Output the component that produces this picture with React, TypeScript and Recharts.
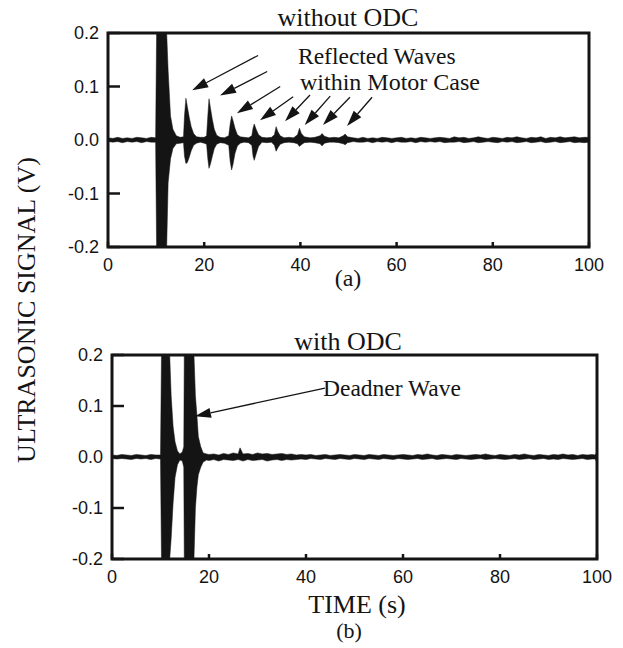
import { Area, ComposedChart, ReferenceArea, ReferenceLine, XAxis, YAxis } from 'recharts'

const INK = '#141414'
const SERIF = '"Liberation Serif", "Times New Roman", serif'
const SANS = '"Liberation Sans", Arial, Helvetica, sans-serif'

const xTicks = [0, 20, 40, 60, 80, 100]
const yTicks = [-0.2, -0.1, 0, 0.1, 0.2]

// (a) without ODC - envelope of the received signal (V) against time
const timeA = [
  0, 1, 2, 3, 4, 5, 6, 7, 8, 9, 9.9,
  10.1, 12.2, 12.5, 13, 13.5, 14.2, 15, 15.7,
  15.9, 16.2, 16.5, 16.9, 17.3, 17.8, 18.4, 19.2, 20,
  20.5, 20.75, 21, 21.3, 21.7, 22.1, 22.6, 23.3, 24.2,
  25.1, 25.4, 25.7, 26, 26.4, 26.9, 27.5, 28.3, 29.2,
  29.9, 30.15, 30.4, 30.8, 31.3, 32, 33, 34,
  34.6, 34.95, 35.3, 35.8, 36.6, 37.6, 38.6,
  39.4, 39.8, 40.2, 40.8, 42, 43,
  44.1, 44.5, 45, 46, 47, 48,
  48.9, 49.3, 49.8,
  51, 52, 53, 54, 55, 56, 57, 58, 59, 60, 61, 62, 63, 64, 65, 66, 67, 68, 69, 70, 71, 72, 73, 74, 75,
  76, 77, 78, 79, 80, 81, 82, 83, 84, 85, 86, 87, 88, 89, 90, 91, 92, 93, 94, 95, 96, 97, 98, 99, 100,
]
const upperA = [
  0.004, 0.003, 0.005, 0.003, 0.004, 0.003, 0.005, 0.004, 0.003, 0.005, 0.004,
  0.2, 0.2, 0.13, 0.045, 0.02, 0.008, 0.005, 0.006,
  0.045, 0.078, 0.062, 0.042, 0.025, 0.012, 0.006, 0.005, 0.005,
  0.008, 0.045, 0.077, 0.06, 0.038, 0.02, 0.009, 0.005, 0.004,
  0.008, 0.03, 0.045, 0.036, 0.022, 0.01, 0.006, 0.005, 0.004,
  0.008, 0.022, 0.03, 0.02, 0.01, 0.005, 0.004, 0.005,
  0.01, 0.025, 0.016, 0.008, 0.004, 0.005, 0.004,
  0.01, 0.022, 0.012, 0.006, 0.004, 0.005,
  0.008, 0.012, 0.007, 0.004, 0.005, 0.004,
  0.008, 0.011, 0.006,
  0.004, 0.003, 0.005, 0.003, 0.004, 0.003, 0.005, 0.004, 0.003, 0.004, 0.005, 0.003, 0.004, 0.003, 0.005, 0.004, 0.003, 0.004, 0.005, 0.004, 0.003, 0.006, 0.004, 0.005, 0.003,
  0.004, 0.006, 0.004, 0.003, 0.005, 0.004, 0.003, 0.005, 0.004, 0.006, 0.004, 0.003, 0.005, 0.004, 0.006, 0.003, 0.005, 0.004, 0.006, 0.004, 0.005, 0.006, 0.004, 0.005, 0.005,
]
const lowerA = [
  -0.003, -0.004, -0.003, -0.005, -0.003, -0.004, -0.003, -0.005, -0.003, -0.004, -0.004,
  -0.2, -0.2, -0.08, -0.035, -0.016, -0.007, -0.006, -0.005,
  -0.03, -0.044, -0.042, -0.032, -0.02, -0.01, -0.006, -0.004, -0.006,
  -0.008, -0.035, -0.053, -0.045, -0.03, -0.016, -0.008, -0.005, -0.006,
  -0.01, -0.04, -0.056, -0.045, -0.025, -0.011, -0.006, -0.004, -0.005,
  -0.01, -0.03, -0.038, -0.026, -0.012, -0.004, -0.005, -0.004,
  -0.01, -0.021, -0.015, -0.008, -0.005, -0.004, -0.005,
  -0.007, -0.012, -0.009, -0.005, -0.004, -0.005,
  -0.007, -0.011, -0.006, -0.004, -0.004, -0.005,
  -0.007, -0.009, -0.005,
  -0.003, -0.004, -0.004, -0.003, -0.005, -0.003, -0.004, -0.003, -0.005, -0.003, -0.004, -0.004, -0.003, -0.005, -0.003, -0.004, -0.003, -0.004, -0.003, -0.005, -0.004, -0.004, -0.003, -0.005, -0.004,
  -0.003, -0.005, -0.004, -0.003, -0.004, -0.005, -0.003, -0.004, -0.003, -0.005, -0.004, -0.003, -0.005, -0.004, -0.003, -0.005, -0.004, -0.003, -0.005, -0.004, -0.003, -0.005, -0.004, -0.005, -0.004,
]

// (b) with ODC
const timeB = [
  0, 1, 2, 3, 4, 5, 6, 7, 8, 9, 10,
  10.2, 11.9, 12.2, 12.6, 13, 13.5, 14, 14.5, 14.8,
  14.9, 16.9, 17.2, 17.5, 17.8, 18.3, 18.8, 19.5,
  20, 21, 22, 23, 24, 25, 26, 26.4, 27, 28, 29, 30, 31, 32, 33, 34, 35, 36, 37, 38, 39, 40,
  41, 42, 43, 44, 45, 46, 47, 48, 49, 50, 51, 52, 53, 54, 55, 56, 57, 58, 59, 60, 61, 62, 63, 64, 65, 66, 67, 68, 69, 70,
  71, 72, 73, 74, 75, 76, 77, 78, 79, 80, 81, 82, 83, 84, 85, 86, 87, 88, 89, 90, 91, 92, 93, 94, 95, 96, 97, 98, 99, 99.6, 100,
]
const upperB = [
  0.004, 0.003, 0.005, 0.004, 0.003, 0.005, 0.004, 0.003, 0.005, 0.004, 0.004,
  0.2, 0.2, 0.12, 0.06, 0.03, 0.012, 0.006, 0.01, 0.02,
  0.2, 0.2, 0.12, 0.083, 0.04, 0.02, 0.008, 0.006,
  0.005, 0.006, 0.004, 0.007, 0.005, 0.008, 0.006, 0.018, 0.006, 0.007, 0.005, 0.008, 0.006, 0.007, 0.005, 0.006, 0.007, 0.005, 0.006, 0.004, 0.005, 0.004,
  0.005, 0.003, 0.004, 0.005, 0.003, 0.004, 0.005, 0.004, 0.003, 0.005, 0.004, 0.003, 0.005, 0.004, 0.003, 0.005, 0.004, 0.003, 0.004, 0.005, 0.004, 0.003, 0.005, 0.004, 0.006, 0.004, 0.003, 0.005, 0.004, 0.003,
  0.005, 0.004, 0.003, 0.004, 0.005, 0.004, 0.006, 0.004, 0.003, 0.005, 0.004, 0.003, 0.005, 0.004, 0.006, 0.004, 0.003, 0.005, 0.004, 0.003, 0.005, 0.004, 0.006, 0.004, 0.005, 0.003, 0.005, 0.004, 0.005, 0.004, 0.01,
]
const lowerB = [
  -0.003, -0.004, -0.003, -0.004, -0.005, -0.003, -0.004, -0.003, -0.005, -0.003, -0.004,
  -0.2, -0.2, -0.16, -0.09, -0.04, -0.015, -0.006, -0.008, -0.02,
  -0.2, -0.2, -0.1, -0.06, -0.035, -0.02, -0.01, -0.006,
  -0.007, -0.005, -0.008, -0.005, -0.006, -0.007, -0.005, -0.006, -0.008, -0.005, -0.007, -0.006, -0.005, -0.008, -0.006, -0.005, -0.007, -0.005, -0.006, -0.005, -0.004, -0.005,
  -0.003, -0.004, -0.005, -0.003, -0.004, -0.005, -0.003, -0.004, -0.005, -0.003, -0.004, -0.005, -0.003, -0.004, -0.005, -0.003, -0.004, -0.005, -0.003, -0.004, -0.005, -0.004, -0.003, -0.005, -0.004, -0.003, -0.005, -0.004, -0.003, -0.004,
  -0.005, -0.003, -0.004, -0.005, -0.004, -0.003, -0.005, -0.004, -0.003, -0.004, -0.005, -0.004, -0.003, -0.005, -0.004, -0.003, -0.005, -0.004, -0.003, -0.005, -0.004, -0.005, -0.003, -0.004, -0.005, -0.004, -0.003, -0.005, -0.004, -0.004, -0.01,
]

// annotation arrows: [tail time, tail V, tip time, tip V]
const arrowsA = [
  [31.2, 0.158, 17.5, 0.093],
  [33.1, 0.128, 23.3, 0.083],
  [35.8, 0.1, 26.8, 0.05],
  [38.5, 0.081, 31.6, 0.037],
  [42.0, 0.084, 36.8, 0.035],
  [46.2, 0.082, 40.9, 0.028],
  [50.3, 0.08, 44.7, 0.028],
  [54.9, 0.08, 49.7, 0.026],
]
const arrowsB = [[43.9, 0.135, 17.1, 0.08]]

const toRows = (t: number[], hi: number[], lo: number[]) =>
  t.map((time, i) => ({ time, range: [lo[i] ?? 0, hi[i] ?? 0] }))

const dataA = toRows(timeA, upperA, lowerA)
const dataB = toRows(timeB, upperB, lowerB)

function Arrow(props: any) {
  const { x1, y1, x2, y2 } = props
  const dx = x2 - x1
  const dy = y2 - y1
  const len = Math.hypot(dx, dy) || 1
  const ux = dx / len
  const uy = dy / len
  const hl = 16
  const hw = 5
  const bx = x2 - ux * hl
  const by = y2 - uy * hl
  return (
    <g>
      <line x1={x1} y1={y1} x2={bx} y2={by} stroke={INK} strokeWidth={1.3} />
      <polygon
        points={`${x2},${y2} ${bx - uy * hw},${by + ux * hw} ${bx + uy * hw},${by - ux * hw}`}
        fill={INK}
      />
    </g>
  )
}

function XTick(props: any) {
  const { x, y, payload } = props
  return (
    <g>
      <line x1={x} y1={y} x2={x} y2={y - 5} stroke={INK} strokeWidth={2.5} />
      <text x={x} y={y + 18} textAnchor="middle" dominantBaseline="central" fontFamily={SANS} fontSize={18} fill={INK}>
        {payload.value}
      </text>
    </g>
  )
}

function YTick(props: any) {
  const { x, y, payload } = props
  return (
    <g>
      <line x1={x} y1={y} x2={x + 12} y2={y} stroke={INK} strokeWidth={2.5} />
      <text x={x - 9} y={y} textAnchor="end" dominantBaseline="central" fontFamily={SANS} fontSize={18} fill={INK}>
        {Number(payload.value).toFixed(1)}
      </text>
    </g>
  )
}

interface PanelProps {
  data: Array<{ time: number; range: number[] }>
  arrows: number[][]
  height: number
  margin: { top: number; right: number; bottom: number; left: number }
}

function Panel({ data, arrows, height, margin }: PanelProps) {
  return (
    <ComposedChart width={623} height={height} data={data} margin={margin}>
      <XAxis
        dataKey="time"
        type="number"
        domain={[0, 100]}
        ticks={xTicks}
        height={1}
        interval={0}
        axisLine={false}
        tickLine={false}
        tickSize={0}
        tickMargin={0}
        tick={(p: any) => <XTick {...p} />}
      />
      <YAxis
        type="number"
        domain={[-0.2, 0.2]}
        ticks={yTicks}
        width={1}
        interval={0}
        axisLine={false}
        tickLine={false}
        tickSize={0}
        tickMargin={0}
        allowDataOverflow
        tick={(p: any) => <YTick {...p} />}
      />
      <Area
        dataKey="range"
        type="linear"
        stroke={INK}
        strokeWidth={0.5}
        fill={INK}
        fillOpacity={1}
        dot={false}
        activeDot={false}
        isAnimationActive={false}
      />
      <ReferenceArea x1={0} x2={100} y1={-0.2} y2={0.2} fill="none" stroke={INK} strokeWidth={3} />
      {arrows.map((a, i) => (
        <ReferenceLine
          key={`arrow-${i}`}
          segment={[
            { x: a[0], y: a[1] },
            { x: a[2], y: a[3] },
          ]}
          shape={(p: any) => <Arrow {...p} />}
        />
      ))}
    </ComposedChart>
  )
}

export default function App() {
  const serif = { fontFamily: SERIF, fill: INK }
  return (
    <div style={{ position: 'absolute', left: 0, top: 0, width: 623, height: 648, background: '#fff', overflow: 'hidden' }}>
      <div style={{ position: 'absolute', left: 0, top: 0 }}>
        <Panel data={dataA} arrows={arrowsA} height={300} margin={{ top: 33, right: 34, bottom: 52, left: 107 }} />
      </div>
      <div style={{ position: 'absolute', left: 0, top: 320 }}>
        <Panel data={dataB} arrows={arrowsB} height={328} margin={{ top: 35, right: 26, bottom: 88, left: 111 }} />
      </div>
      <svg width={623} height={648} style={{ position: 'absolute', left: 0, top: 0, pointerEvents: 'none' }}>
        <text x={348} y={26} textAnchor="middle" fontSize={26} {...serif}>without ODC</text>
        <text x={298} y={64} fontSize={23.5} {...serif}>Reflected Waves</text>
        <text x={300} y={90} fontSize={24} {...serif}>within Motor Case</text>
        <text x={348} y={286} textAnchor="middle" fontSize={24} {...serif}>(a)</text>
        <text x={348} y={350} textAnchor="middle" fontSize={26} {...serif}>with ODC</text>
        <text x={323} y={396} fontSize={23.5} {...serif}>Deadner Wave</text>
        <text x={357} y={613} textAnchor="middle" fontSize={26} {...serif}>TIME (s)</text>
        <text x={349} y={638} textAnchor="middle" fontSize={22} {...serif}>(b)</text>
        <text x={35} y={310} textAnchor="middle" fontSize={26} transform="rotate(-90 35 310)" {...serif}>
          ULTRASONIC SIGNAL (V)
        </text>
      </svg>
    </div>
  )
}
